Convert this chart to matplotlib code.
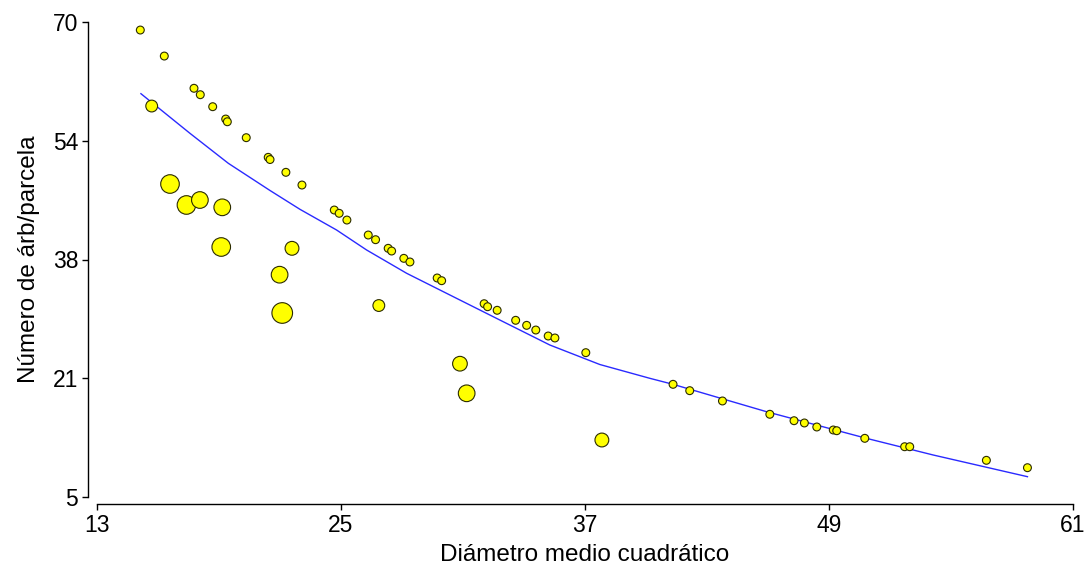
import matplotlib
matplotlib.use('Agg')
import matplotlib.pyplot as plt
import numpy as np

plt.rcParams['font.family'] = ['Liberation Sans', 'DejaVu Sans']

# parcelas: diametro medio cuadratico vs numero de arboles
dmc = [15.13, 16.31, 17.77, 18.08, 18.69, 19.33, 19.41, 20.34, 21.42, 21.51,
       22.29, 23.08, 24.67, 24.91, 25.29, 26.34, 26.70, 27.32, 27.49, 28.09,
       28.39, 29.73, 29.95, 32.04, 32.21, 32.68, 33.59, 34.13, 34.58, 35.19,
       35.52, 37.04, 41.33, 42.15, 43.76, 46.09, 47.28, 47.79, 48.40, 49.21,
       49.38, 50.76, 52.72, 52.97, 56.74, 58.76,
       15.69, 16.59, 17.40, 18.06, 19.16, 19.11, 22.59, 21.98, 22.11, 26.86,
       30.85, 31.18, 37.83]
narb = [68.90, 65.34, 60.93, 60.05, 58.41, 56.72, 56.35, 54.17, 51.48, 51.18,
        49.43, 47.69, 44.27, 43.82, 42.90, 40.85, 40.21, 39.03, 38.66, 37.66,
        37.16, 34.97, 34.60, 31.45, 31.04, 30.55, 29.18, 28.49, 27.85, 27.03,
        26.76, 24.75, 20.42, 19.55, 18.14, 16.32, 15.44, 15.13, 14.58, 14.17,
        14.07, 13.03, 11.88, 11.88, 10.02, 9.01,
        58.50, 47.83, 44.96, 45.64, 44.64, 39.21, 39.03, 35.42, 30.18, 31.20,
        23.24, 19.19, 12.80]
# peso relativo de cada parcela (tamano de la burbuja)
peso = [1] * 46 + [2.25, 5.6, 5.6, 4.5, 4.5, 5.6, 3.1, 4.5, 6.9, 2.25,
                   3.5, 4.5, 3.1]

# curva ajustada
ajuste_x = [15.16, 17.57, 19.46, 21.51, 22.98, 24.78, 26.26, 28.23, 30.68,
            32.81, 35.27, 37.73, 40.19, 41.33, 45.93, 50.84, 54.12, 58.76]
ajuste_y = [60.19, 54.77, 50.66, 46.94, 44.37, 41.54, 38.80, 35.61, 32.19,
            29.22, 25.80, 23.13, 21.24, 20.42, 16.67, 13.03, 10.75, 7.78]

xticks = np.linspace(13, 61, 5)
yticks = np.linspace(5, 70, 5)

fig = plt.figure(figsize=(10.88, 5.69), dpi=100)
ax = fig.add_axes([97 / 1088, 72 / 569, 976 / 1088, 475 / 569])

ax.plot(ajuste_x, ajuste_y, color='#2a2aff', linewidth=1.0, zorder=2)
ax.scatter(dmc, narb, s=np.array(peso) * 32, c='#ffff00',
           edgecolors='#2b2b00', linewidths=0.8, zorder=3)

ax.set_xlim(13, 61)
ax.set_ylim(5, 70)
ax.set_xticks(xticks)
ax.set_xticklabels(['%d' % round(v) for v in xticks])
ax.set_yticks(yticks)
ax.set_yticklabels(['%d' % round(v + 0.01) for v in yticks])

# ejes separados, estilo R (desplazamiento en puntos)
for side in ['top', 'right']:
    ax.spines[side].set_visible(False)
ax.spines['left'].set_position(('outward', 6.5))
ax.spines['bottom'].set_position(('outward', 5))
for side in ['left', 'bottom']:
    ax.spines[side].set_linewidth(1.0)
ax.spines['left'].set_bounds(5, 70)
ax.spines['bottom'].set_bounds(13, 61)
ax.tick_params(direction='out', length=4, width=1.0, labelsize=16.5, pad=3)

ax.set_xlabel('Diámetro medio cuadrático', fontsize=17.5, labelpad=5)
ax.set_ylabel('Número de árb/parcela', fontsize=17.5, labelpad=9)

fig.savefig('out.png', dpi=100)
